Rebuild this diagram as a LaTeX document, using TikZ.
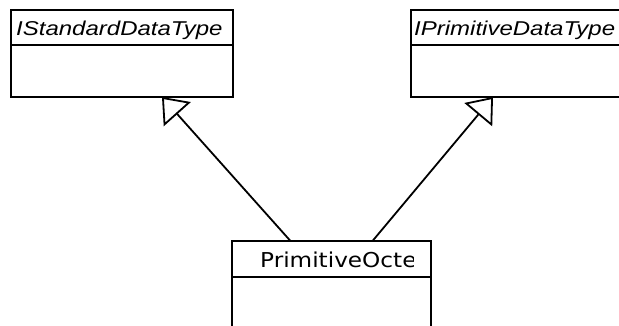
\documentclass[tikz,border=0pt]{standalone}
\usepackage{fontspec}
\newfontfamily\ifacefont[FakeStretch=1.2]{Liberation Sans}
\newfontfamily\classfont[FakeStretch=1.13]{DejaVu Sans}
\usetikzlibrary{arrows.meta,positioning}

\begin{document}
\begin{tikzpicture}[x=1pt, y=-1pt,
  umlbox/.style={draw=black, line width=1.8pt, inner sep=0pt, outer sep=0pt, minimum width=222pt},
  headbox/.style={umlbox, minimum height=35pt},
  ifacename/.style={anchor=base west, inner sep=0pt, font=\ifacefont\itshape\fontsize{20}{24}\selectfont},
  classname/.style={anchor=base west, inner sep=0pt, font=\classfont\fontsize{20.5}{24}\selectfont},
  realize/.style={black, line width=1.8pt, -{Triangle[open, length=23pt, width=36pt]}}]
\useasboundingbox (0,0) rectangle (619,326);
\clip (0,0) rectangle (619,326);

% interfaces
\node [headbox, anchor=north west] (stdhead) at (11,10) {};
\node [umlbox, minimum height=52pt, below=0pt of stdhead] (stdbody) {};
\node [ifacename] (stdname) at ([xshift=5pt, yshift=-8.5pt]stdhead.west) {IStandardDataType};

\node [headbox, anchor=north west] (primhead) at (411,10) {};
\node [umlbox, minimum height=52pt, below=0pt of primhead] (primbody) {};
\node [ifacename] (primname) at ([xshift=3pt, yshift=-8.5pt]primhead.west) {IPrimitiveDataType};

% class
\node [umlbox, minimum width=199pt, minimum height=36pt, anchor=north west] (octhead) at (232,241) {};
\node [umlbox, minimum width=199pt, minimum height=60pt, below=0pt of octhead] (octbody) {};
\begin{scope}
\clip (octhead.north west) rectangle ([xshift=-18pt]octhead.south east);
\node [classname] (octname) at ([xshift=28pt, yshift=-8pt]octhead.west) {PrimitiveOctet};
\end{scope}

% realizations
\coordinate (stdtip) at ([xshift=40pt]stdbody.south);
\coordinate (primtip) at ([xshift=-29pt]primbody.south);
\coordinate (octleft) at ([xshift=-41pt]octhead.north);
\coordinate (octright) at ([xshift=41pt]octhead.north);
\draw [realize] (octleft) -- (stdtip);
\draw [realize] (octright) -- (primtip);

\end{tikzpicture}
\end{document}
